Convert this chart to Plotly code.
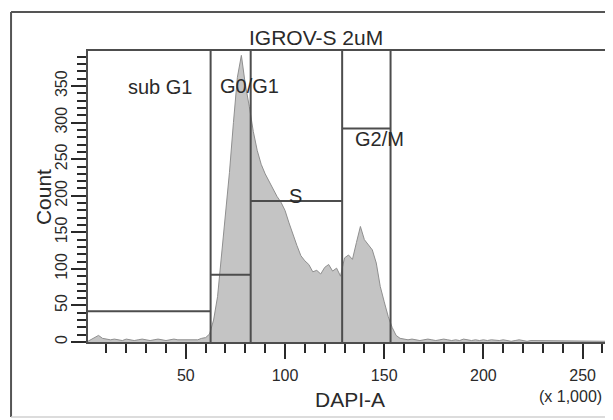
import plotly.graph_objects as go

# DAPI-A channel (x 1,000), bins of 2
dapi = list(range(0, 264, 2))
counts = [
    0, 3, 7, 9, 5, 4, 3, 4, 3, 2,
    4, 3, 2, 3, 4, 3, 2, 3, 4, 3,
    2, 3, 4, 3, 3, 4, 3, 4, 3, 5,
    6, 11, 30, 62, 118, 180, 232, 300, 362, 392,
    352, 322, 288, 262, 243, 230, 219, 210, 199, 191,
    180, 163, 146, 132, 118, 111, 106, 96, 98, 93,
    102, 106, 97, 101, 90, 115, 119, 113, 136, 158,
    140, 133, 126, 108, 76, 55, 35, 20, 9, 5,
    4, 3, 4, 3, 2, 3, 4, 3, 2, 3,
    4, 3, 2, 3, 2, 4, 3, 2, 3, 2,
    3, 2, 3, 2, 2, 3, 2, 1, 2, 3,
    2, 1, 2, 2, 1, 2, 1, 2, 1, 2,
    1, 1, 2, 1, 1, 2, 1, 1, 1, 2,
    1, 1,
]

# interval gates
gate_names = ['sub G1', 'G0/G1', 'S', 'G2/M']
gate_lo = [0, 62.5, 82.7, 128.8]
gate_hi = [62.5, 82.7, 128.8, 153.2]
gate_level = [42, 92, 193, 292]

FONT = 'Liberation Sans, Arial, sans-serif'
INK = '#2a2a2a'
LINE = '#4d4d4d'

fig = go.Figure()
fig.add_trace(go.Scatter(
    x=dapi, y=counts, mode='lines', fill='tozeroy',
    fillcolor='#c4c4c4', line=dict(color='#8f8f8f', width=1),
    hoverinfo='skip', showlegend=False,
))

# gate bars and boundaries
for lo, hi, lvl in zip(gate_lo, gate_hi, gate_level):
    fig.add_shape(type='line', x0=lo, x1=hi, y0=lvl, y1=lvl,
                  line=dict(color=LINE, width=2), layer='above')
for b in sorted(set(gate_lo[1:] + gate_hi)):
    fig.add_shape(type='line', x0=b, x1=b, yref='y domain', y0=0, y1=1,
                  line=dict(color=LINE, width=2), layer='above')

label_pos = {'sub G1': (36.8, 349), 'G0/G1': (82.2, 350), 'S': (105.3, 200), 'G2/M': (147.7, 278)}
for name in gate_names:
    lx, ly = label_pos[name]
    fig.add_annotation(x=lx, y=ly, text=name, showarrow=False,
                       xanchor='center', yanchor='middle',
                       font=dict(size=20, color=INK, family=FONT))


def paper_text(x, y, text, size, angle=0):
    fig.add_annotation(xref='paper', yref='paper', x=x, y=y, text=text, textangle=angle,
                       xanchor='center', yanchor='middle', showarrow=False,
                       font=dict(size=size, color=INK, family=FONT))


# title and axis titles
paper_text(0.438, 1.045, 'IGROV-S 2uM', 21)
paper_text(0.504, -0.199, 'DAPI-A', 21)
paper_text(0.928, -0.186, '(x 1,000)', 16)
paper_text(-0.0865, 0.498, 'Count', 21, angle=-90)

# outer panel frame
fig.add_shape(type='line', xref='paper', yref='paper', x0=-0.148, x1=-0.148, y0=-0.258, y1=1.134,
              line=dict(color='#555', width=2))
fig.add_shape(type='line', xref='paper', yref='paper', x0=-0.148, x1=1.05, y0=1.134, y1=1.134,
              line=dict(color='#555', width=2))
fig.add_shape(type='line', xref='paper', yref='paper', x0=-0.148, x1=1.05, y0=-0.258, y1=-0.258,
              line=dict(color='#d0d0d0', width=1.5))

axis_common = dict(
    showline=True, linecolor=LINE, linewidth=2, mirror=True, automargin=False,
    ticks='outside', tickcolor=INK, tickwidth=1.5, ticklen=15,
    tick0=0, dtick=50, showgrid=False, zeroline=False,
    tickfont=dict(size=16, color=INK, family=FONT),
    minor=dict(ticks='outside', dtick=10, ticklen=9, tickcolor=INK, tickwidth=1.5, showgrid=False),
)

# page body adds an 8px offset, so the figure is sized to fit inside the window
fig.update_layout(
    width=605, height=412,
    margin=dict(l=80, r=5, t=43, b=78),
    paper_bgcolor='white', plot_bgcolor='white',
    font=dict(family=FONT, color=INK),
    xaxis=dict(range=[0.7, 262.8], ticklabelstandoff=3, **axis_common),
    yaxis=dict(range=[0, 398], tickangle=-90, ticklabelstandoff=-2, **axis_common),
)

fig.write_html("out.html")
